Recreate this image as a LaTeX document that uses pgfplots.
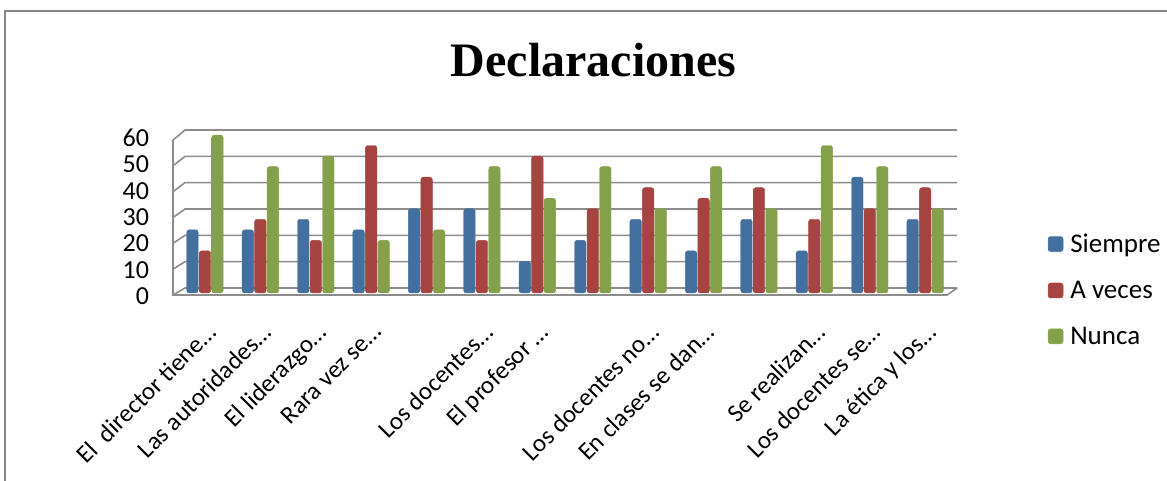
\documentclass[border=0pt]{standalone}
\usepackage{fontspec}
\setmainfont{Carlito}
\newfontfamily\titlefont{Liberation Serif}
\usepackage{pgfplots}
\pgfplotsset{compat=1.18}

\definecolor{sblue}{HTML}{4F81BD}
\definecolor{sblueD}{HTML}{44709F}
\definecolor{sblueL}{HTML}{8DB3E2}
\definecolor{sred}{HTML}{C0504D}
\definecolor{sredD}{HTML}{A54441}
\definecolor{sredL}{HTML}{E58C89}
\definecolor{sgreen}{HTML}{9BBB59}
\definecolor{sgreenD}{HTML}{85A04A}
\definecolor{sgreenL}{HTML}{C9DF9C}
\definecolor{gridc}{HTML}{8C8C8C}
\definecolor{framec}{HTML}{868686}

\begin{document}
\begin{tikzpicture}[x=1pt,y=1pt]
\useasboundingbox (0pt,0pt) rectangle (1167pt,481pt);
% chart frame
\draw[framec, line width=2pt] (5pt,0pt) -- (5pt,470pt) -- (1167pt,470pt);
% title
\node[anchor=base, font=\titlefont\bfseries\fontsize{48}{56}\selectfont] at (593.5pt,404pt) {Declaraciones};

\begin{axis}[
  at={(174.5pt,188pt)}, anchor=south west,
  x=55.4pt, y=2.633pt,
  xmin=0.45, xmax=14.55, ymin=0, ymax=60,
  clip=false,
  ybar=1pt, bar width=11.5pt,
  axis line style={draw=none},
  tick style={draw=none},
  ytick={0,10,...,60},
  xtick={1,...,14},
  xticklabels={{El\ \ director tiene…},{Las autoridades…},{El liderazgo…},{Rara vez se…},{},{Los docentes…},{El profesor …},{},{Los docentes no…},{En clases se dan…},{},{Se realizan…},{Los docentes se…},{La ética y los…}},
  /pgf/number format/assume math mode=true,
  yticklabel style={font=\fontsize{26}{30}\selectfont, xshift=-22pt, yshift=-3pt},
  xticklabel style={font=\fontsize{25}{30}\selectfont, rotate=45, anchor=north east, xshift=-14pt, yshift=-14pt},
  legend style={draw=none, fill=none, font=\fontsize{27}{32}\selectfont,
    at={(axis description cs:1.114,0.40)}, anchor=north west,
    row sep=23pt, column sep=5pt, cells={anchor=west}},
]
% back wall grid and left wall
\pgfplotsinvokeforeach{0,10,20,30,40,50,60}{
  \draw[gridc, line width=1.6pt]
    ([xshift=-1.5pt,yshift={-(2+0.05*#1)*1pt}]axis cs:0.45,#1)
    -- ([xshift=10.5pt,yshift=5pt]axis cs:0.45,#1)
    -- ([xshift=1.5pt,yshift=5pt]axis cs:14.55,#1);
}
% left wall edge and floor
\draw[gridc, line width=1.6pt]
  ([xshift=-1.5pt,yshift=-5pt]axis cs:0.45,60)
  -- ([xshift=-1.5pt,yshift=-2pt]axis cs:0.45,0)
  -- ([xshift=-8.5pt,yshift=-2pt]axis cs:14.55,0)
  -- ([xshift=1.5pt,yshift=5pt]axis cs:14.55,0);

\addplot[draw=sblueD, line width=0.4pt, left color=sblueD, middle color=sblueL, right color=sblueD, rounded corners=2.5pt,
  legend image code/.code={\fill[sblue] (0pt,-7.5pt) rectangle (15pt,7.5pt);}]
  coordinates {(1,24) (2,24) (3,28) (4,24) (5,32) (6,32) (7,12) (8,20) (9,28) (10,16) (11,28) (12,16) (13,44) (14,28)};
\addlegendentry{Siempre}
\addplot[draw=sredD, line width=0.4pt, left color=sredD, middle color=sredL, right color=sredD, rounded corners=2.5pt,
  legend image code/.code={\fill[sred] (0pt,-7.5pt) rectangle (15pt,7.5pt);}]
  coordinates {(1,16) (2,28) (3,20) (4,56) (5,44) (6,20) (7,52) (8,32) (9,40) (10,36) (11,40) (12,28) (13,32) (14,40)};
\addlegendentry{A veces}
\addplot[draw=sgreenD, line width=0.4pt, left color=sgreenD, middle color=sgreenL, right color=sgreenD, rounded corners=2.5pt,
  legend image code/.code={\fill[sgreen] (0pt,-7.5pt) rectangle (15pt,7.5pt);}]
  coordinates {(1,60) (2,48) (3,52) (4,20) (5,24) (6,48) (7,36) (8,48) (9,32) (10,48) (11,32) (12,56) (13,48) (14,32)};
\addlegendentry{Nunca}
\end{axis}
\end{tikzpicture}
\end{document}
